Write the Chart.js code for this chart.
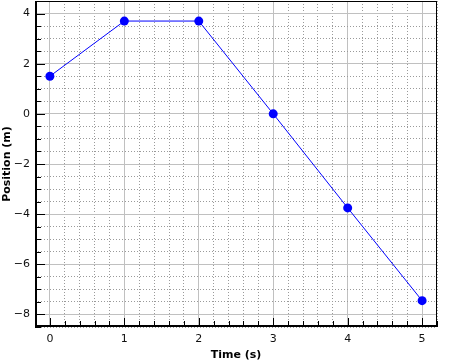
<!DOCTYPE html>
<html>
<head>
<meta charset="utf-8">
<script src="https://cdn.jsdelivr.net/npm/chart.js@4/dist/chart.umd.min.js"></script>
<style>
  html, body { margin: 0; padding: 0; background: #fff; }
  #wrap { width: 454px; height: 362px; }
</style>
</head>
<body>
<div id="wrap"><canvas id="chart"></canvas></div>
<script>
// data
const times = [0, 1, 2, 3, 4, 5];
const positions = [1.5, 3.7, 3.7, 0, -3.75, -7.45];
const xLabels = [0, 1, 2, 3, 4, 5];
const yLabels = [-8, -6, -4, -2, 0, 2, 4];

const near = (a, b) => Math.abs(a - b) < 1e-6;
const isIn = (v, list) => list.some(t => near(v, t));
const fmt = v => (v < 0 ? '\u2212' + Math.abs(v) : String(v));

// frame + inward tick marks
const frame = {
  id: 'frame',
  afterDraw(chart) {
    const { ctx, chartArea: a, scales } = chart;
    ctx.save();
    ctx.strokeStyle = '#000';
    ctx.lineWidth = 1;
    scales.x.ticks.forEach(t => {
      const px = Math.round(scales.x.getPixelForValue(t.value)) + 0.5;
      const len = isIn(t.value, xLabels) ? 9 : 6;
      ctx.beginPath();
      ctx.moveTo(px, a.bottom);
      ctx.lineTo(px, a.bottom - len);
      ctx.stroke();
    });
    scales.y.ticks.forEach(t => {
      const py = Math.round(scales.y.getPixelForValue(t.value)) + 0.5;
      const len = isIn(t.value, yLabels) ? 10 : 6;
      ctx.beginPath();
      ctx.moveTo(a.left, py);
      ctx.lineTo(a.left + len, py);
      ctx.stroke();
    });
    ctx.strokeRect(a.left + 0.5, a.top + 0.5, a.right - a.left - 1, a.bottom - a.top - 1);
    ctx.lineWidth = 2;
    ctx.beginPath();
    ctx.moveTo(a.left + 1, a.top);
    ctx.lineTo(a.left + 1, a.bottom - 1);
    ctx.lineTo(a.right, a.bottom - 1);
    ctx.stroke();
    ctx.restore();
  }
};

const gridOpts = list => ({
  drawTicks: false,
  lineWidth: 1,
  color: c => (isIn(c.tick.value, list) ? '#c0c0c0' : '#9a9a9a')
});
const dashOpts = list => ({
  display: false,
  dash: c => (c.tick && isIn(c.tick.value, list) ? [] : [1, 2])
});

new Chart(document.getElementById('chart'), {
  type: 'line',
  data: {
    datasets: [{
      data: times.map((t, i) => ({ x: t, y: positions[i] })),
      borderColor: '#0000ff',
      backgroundColor: '#0000ff',
      borderWidth: 1,
      pointRadius: 4.5,
      pointHoverRadius: 4.5,
      pointBorderWidth: 0,
      tension: 0
    }]
  },
  options: {
    responsive: true,
    maintainAspectRatio: false,
    animation: false,
    layout: { autoPadding: false, padding: { top: 1, right: 17, left: 0, bottom: 0 } },
    plugins: { legend: { display: false }, tooltip: { enabled: false } },
    scales: {
      x: {
        type: 'linear',
        min: -0.2,
        max: 5.2,
        afterFit: s => { s.height = 35; s.paddingLeft = 0; s.paddingRight = 0; },
        grid: gridOpts(xLabels),
        border: dashOpts(xLabels),
        ticks: {
          stepSize: 0.2,
          autoSkip: false,
          maxRotation: 0,
          padding: 6,
          color: '#111',
          font: { family: 'DejaVu Sans', size: 11 },
          callback: v => (isIn(v, xLabels) ? fmt(Math.round(v)) : '')
        },
        title: {
          display: true,
          text: 'Time (s)',
          color: '#000',
          padding: { top: 0, bottom: 0 },
          font: { family: 'DejaVu Sans', size: 11, weight: 'bold' }
        }
      },
      y: {
        min: -8.5,
        max: 4.5,
        afterFit: s => { s.width = 35; s.paddingTop = 0; s.paddingBottom = 0; },
        grid: gridOpts(yLabels),
        border: dashOpts(yLabels),
        ticks: {
          stepSize: 0.5,
          autoSkip: false,
          padding: 5,
          color: '#111',
          font: { family: 'DejaVu Sans', size: 11 },
          callback: v => (isIn(v, yLabels) ? fmt(Math.round(v)) : '')
        },
        title: {
          display: true,
          text: 'Position (m)',
          color: '#000',
          padding: { top: 1, bottom: 0 },
          font: { family: 'DejaVu Sans', size: 11, weight: 'bold' }
        }
      }
    }
  },
  plugins: [frame]
});
</script>
</body>
</html>
